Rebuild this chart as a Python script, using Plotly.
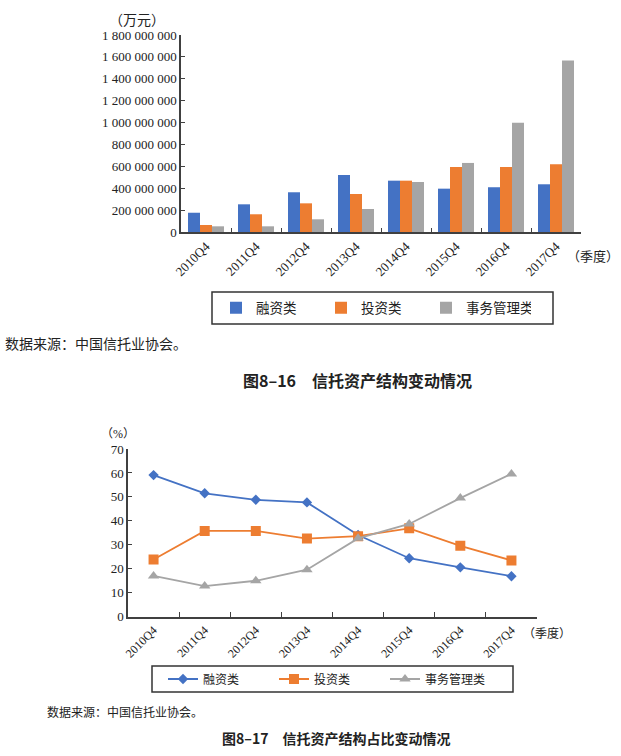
import plotly.graph_objects as go

W, H = 621, 756

quarters = ["2010Q4", "2011Q4", "2012Q4", "2013Q4", "2014Q4", "2015Q4", "2016Q4", "2017Q4"]
series_names = ["融资类", "投资类", "事务管理类"]
colors = ["#4472C4", "#ED7D31", "#A5A5A5"]

# 万元
financing_amt = [176000000, 253000000, 363000000, 521000000, 469000000, 396000000, 409000000, 436000000]
investment_amt = [64000000, 162000000, 262000000, 347000000, 469000000, 594000000, 594000000, 619000000]
affairs_amt = [52000000, 52000000, 116000000, 210000000, 457000000, 631000000, 999000000, 1566000000]

# %
financing_pct = [59.1, 51.5, 48.8, 47.7, 34.1, 24.4, 20.6, 16.9]
investment_pct = [23.9, 35.8, 35.8, 32.6, 33.6, 36.9, 29.6, 23.5]
affairs_pct = [17.0, 12.8, 15.0, 19.6, 32.7, 38.7, 49.5, 59.6]

SERIF = "'Liberation Serif', 'Times New Roman', 'Noto Sans CJK SC', serif"
SANS = "'Noto Sans CJK SC', 'Noto Sans', sans-serif"
AXIS = "#404040"


def px_x(x):
    return x / W


def px_y(y):
    return 1 - y / H


fig = go.Figure()

for name, vals, c in zip(series_names, [financing_amt, investment_amt, affairs_amt], colors):
    fig.add_trace(go.Bar(x=quarters, y=vals, name=name, marker_color=c,
                         marker_line_width=0, xaxis="x", yaxis="y", legend="legend"))

markers = ["diamond", "square", "triangle-up"]
msizes = [8, 10, 10]
for name, vals, c, m, s in zip(series_names, [financing_pct, investment_pct, affairs_pct],
                               colors, markers, msizes):
    fig.add_trace(go.Scatter(x=quarters, y=vals, name=name, mode="lines+markers",
                             line=dict(color=c, width=1.8),
                             marker=dict(symbol=m, size=s, color=c),
                             xaxis="x2", yaxis="y2", legend="legend2"))

axis_common = dict(showline=True, linecolor=AXIS, linewidth=1.5, tickcolor=AXIS,
                   showgrid=False, zeroline=False, automargin=False)

fig.update_layout(
    template="none",
    width=W, height=H,
    margin=dict(l=0, r=0, t=0, b=0),
    paper_bgcolor="white", plot_bgcolor="white",
    separators=". ",
    font=dict(family=SERIF, size=13, color="#222"),
    barmode="group", bargap=0.28, bargroupgap=0,
    xaxis=dict(domain=[px_x(181), px_x(581)], anchor="y", type="category",
               ticks="inside", ticklen=4, tickson="boundaries",
               tickangle=-45, tickfont=dict(size=13), **axis_common),
    yaxis=dict(domain=[px_y(232), px_y(35)], anchor="x", range=[0, 1800000000],
               dtick=200000000, tickformat=",.0f",
               ticks="inside", ticklen=4, tickfont=dict(size=13), **axis_common),
    xaxis2=dict(domain=[px_x(128), px_x(537)], anchor="y2", type="category",
                range=[-0.5, 7.5], ticks="inside", ticklen=5, tickson="boundaries",
                tickangle=-45, tickfont=dict(size=12), **axis_common),
    yaxis2=dict(domain=[px_y(616.7), px_y(449)], anchor="x2", range=[0, 70],
                dtick=10, ticks="inside", ticklen=4, tickfont=dict(size=13), **axis_common),
    legend=dict(orientation="h", x=px_x(216), y=px_y(308), xanchor="left", yanchor="middle",
                bgcolor="rgba(0,0,0,0)", borderwidth=0,
                entrywidth=60, entrywidthmode="pixels",
                font=dict(family=SERIF, size=13.5)),
    legend2=dict(orientation="h", x=px_x(163), y=px_y(679), xanchor="left", yanchor="middle",
                 bgcolor="rgba(0,0,0,0)", borderwidth=0,
                 entrywidth=66, entrywidthmode="pixels",
                 font=dict(family=SERIF, size=12)),
    shapes=[
        dict(type="rect", xref="paper", yref="paper",
             x0=px_x(212), x1=px_x(553), y0=px_y(324), y1=px_y(292),
             line=dict(color="#333", width=1.5)),
        dict(type="rect", xref="paper", yref="paper",
             x0=px_x(152), x1=px_x(513), y0=px_y(692), y1=px_y(666),
             line=dict(color="#333", width=1.5)),
    ],
)

notes = [
    ("（万元）", 137, 20, 14, SERIF, "center"),
    ("（季度）", 593, 256, 13, SERIF, "center"),
    ("数据来源：中国信托业协会。", 3, 345, 14, SERIF, "left"),
    ("<b>图8–16　信托资产结构变动情况</b>", 357, 380, 16, SANS, "center"),
    ("（%）", 118, 434, 12, SERIF, "center"),
    ("（季度）", 547, 633, 12, SERIF, "center"),
    ("数据来源：中国信托业协会。", 45, 712, 12, SERIF, "left"),
    ("<b>图8–17　信托资产结构占比变动情况</b>", 336, 738, 14, SANS, "center"),
]
for text, x, y, size, fam, anchor in notes:
    fig.add_annotation(text=text, x=px_x(x), y=px_y(y), xref="paper", yref="paper",
                       xanchor=anchor, yanchor="middle", showarrow=False,
                       font=dict(size=size, family=fam, color="#222"))

fig.write_html("out.html", config={"displayModeBar": False},
               post_script="document.body.style.margin='0';")
